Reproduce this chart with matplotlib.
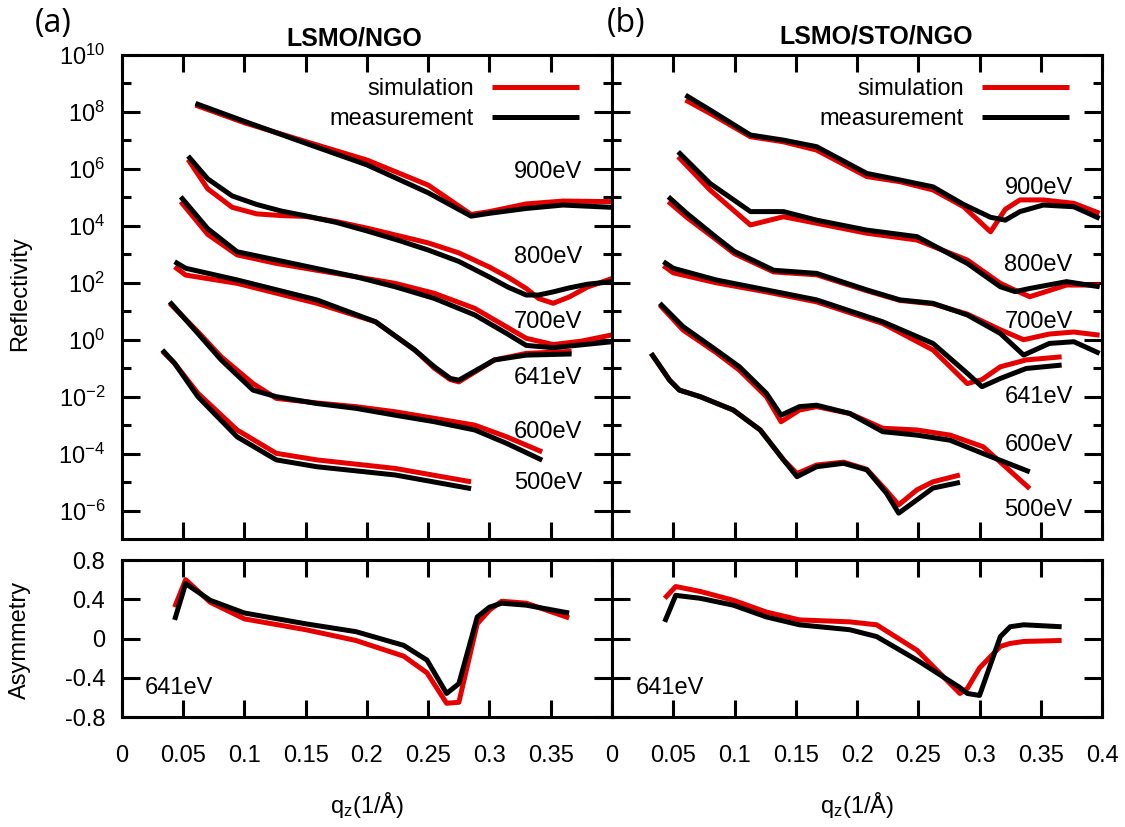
import numpy as np
import matplotlib
matplotlib.use("Agg")
import matplotlib.pyplot as plt
from matplotlib.ticker import FixedLocator, FixedFormatter

plt.rcParams['font.family'] = ['Liberation Sans', 'DejaVu Sans']
plt.rcParams['mathtext.fontset'] = 'custom'
plt.rcParams['mathtext.rm'] = 'Liberation Sans'
plt.rcParams['mathtext.it'] = 'Liberation Sans:italic'
plt.rcParams['mathtext.default'] = 'regular'

# ---- data: reflectivity given as log10(R) ----
# panel (a) LSMO/NGO
qa_900 = [0.060, 0.10, 0.15, 0.20, 0.25, 0.285, 0.30, 0.33, 0.36, 0.40]
a_900_meas = [8.30, 7.67, 6.90, 6.14, 5.16, 4.34, 4.44, 4.61, 4.73, 4.65]
a_900_sim = [8.24, 7.62, 6.96, 6.31, 5.43, 4.40, 4.50, 4.77, 4.87, 4.85]

qa_800 = [0.054, 0.07, 0.09, 0.11, 0.13, 0.15, 0.175, 0.20, 0.225, 0.25,
          0.275, 0.30, 0.315, 0.33, 0.34, 0.352, 0.365, 0.38, 0.40]
a_800_meas = [6.45, 5.65, 5.05, 4.75, 4.52, 4.35, 4.12, 3.82, 3.50, 3.15,
              2.75, 2.20, 1.85, 1.57, 1.57, 1.68, 1.82, 1.95, 2.04]
a_800_sim = [6.33, 5.30, 4.65, 4.42, 4.36, 4.33, 4.15, 3.92, 3.66, 3.40,
             3.05, 2.55, 2.20, 1.80, 1.45, 1.28, 1.50, 1.85, 2.15]

qa_700 = [0.048, 0.07, 0.094, 0.126, 0.159, 0.191, 0.223, 0.255, 0.288,
          0.314, 0.330, 0.352, 0.375, 0.40]
a_700_meas = [5.02, 3.90, 3.09, 2.80, 2.50, 2.21, 1.86, 1.45, 0.87,
              0.22, -0.20, -0.28, -0.18, -0.07]
a_700_sim = [4.85, 3.70, 2.98, 2.68, 2.44, 2.21, 1.98, 1.63, 1.10,
             0.45, 0.05, -0.17, -0.05, 0.17]

qa_641 = [0.043, 0.052, 0.094, 0.159, 0.207, 0.239, 0.255, 0.268, 0.275,
          0.304, 0.33, 0.367]
a_641_meas = [2.74, 2.51, 2.10, 1.40, 0.63, -0.36, -0.95, -1.36, -1.42,
              -0.71, -0.54, -0.50]
a_641_sim = [2.56, 2.27, 1.98, 1.28, 0.63, -0.36, -1.00, -1.40, -1.48,
             -0.71, -0.48, -0.41]

qa_600 = [0.039, 0.062, 0.081, 0.107, 0.126, 0.159, 0.191, 0.223, 0.255,
          0.288, 0.314, 0.343]
a_600_meas = [1.33, 0.22, -0.71, -1.77, -2.00, -2.24, -2.41, -2.65, -2.88,
              -3.17, -3.64, -4.23]
a_600_sim = [1.28, 0.28, -0.60, -1.54, -2.06, -2.22, -2.35, -2.53, -2.76,
             -3.00, -3.41, -3.94]

qa_500 = [0.033, 0.043, 0.062, 0.094, 0.126, 0.159, 0.223, 0.285]
a_500_meas = [-0.36, -0.83, -2.00, -3.41, -4.22, -4.46, -4.75, -5.23]
a_500_sim = [-0.40, -0.83, -1.88, -3.17, -3.99, -4.22, -4.52, -4.99]

# panel (b) LSMO/STO/NGO
qb_900 = [0.060, 0.080, 0.113, 0.140, 0.167, 0.208, 0.235, 0.262, 0.287,
          0.309, 0.321, 0.333, 0.352, 0.377, 0.398]
b_900_meas = [8.59, 8.07, 7.19, 7.01, 6.78, 5.84, 5.61, 5.37, 4.75,
              4.30, 4.20, 4.50, 4.73, 4.67, 4.26]
b_900_sim = [8.42, 7.95, 7.13, 6.95, 6.66, 5.73, 5.55, 5.26, 4.67,
             3.79, 4.58, 4.91, 4.91, 4.79, 4.44]

qb_800 = [0.054, 0.080, 0.113, 0.140, 0.167, 0.208, 0.249, 0.290, 0.317,
          0.329, 0.341, 0.371, 0.398]
b_800_meas = [6.60, 5.49, 4.50, 4.50, 4.20, 3.85, 3.62, 2.68, 1.86,
              1.69, 1.80, 2.04, 1.86]
b_800_sim = [6.43, 5.26, 4.03, 4.32, 4.09, 3.74, 3.50, 2.80, 1.98,
             1.74, 1.51, 1.92, 1.92]

qb_700 = [0.046, 0.061, 0.085, 0.10, 0.132, 0.167, 0.208, 0.235, 0.262,
          0.290, 0.317, 0.336, 0.357, 0.377, 0.398]
b_700_meas = [5.02, 4.44, 3.60, 3.10, 2.44, 2.33, 1.75, 1.40, 1.28,
              0.87, 0.22, -0.54, -0.13, -0.07, -0.48]
b_700_sim = [4.85, 4.30, 3.52, 3.02, 2.38, 2.28, 1.72, 1.38, 1.26,
             0.90, 0.35, 0.00, 0.20, 0.27, 0.16]

qb_641 = [0.042, 0.050, 0.085, 0.126, 0.167, 0.221, 0.262, 0.290, 0.302,
          0.317, 0.338, 0.367]
b_641_meas = [2.74, 2.51, 2.10, 1.75, 1.40, 0.63, -0.13, -1.18, -1.65,
              -1.36, -1.01, -0.89]
b_641_sim = [2.60, 2.35, 2.00, 1.68, 1.33, 0.57, -0.36, -1.54, -1.40,
             -0.95, -0.71, -0.60]

qb_600 = [0.039, 0.058, 0.085, 0.104, 0.126, 0.138, 0.153, 0.167, 0.194,
          0.221, 0.249, 0.276, 0.303, 0.341]
b_600_meas = [1.28, 0.46, -0.36, -0.95, -1.88, -2.65, -2.35, -2.30, -2.59,
              -3.23, -3.35, -3.53, -4.00, -4.64]
b_600_sim = [1.22, 0.34, -0.45, -1.07, -2.00, -2.88, -2.47, -2.35, -2.59,
             -3.11, -3.17, -3.35, -3.76, -5.23]

qb_500 = [0.032, 0.047, 0.055, 0.072, 0.099, 0.121, 0.140, 0.151, 0.167,
          0.189, 0.208, 0.224, 0.234, 0.249, 0.262, 0.284]
b_500_meas = [-0.48, -1.42, -1.77, -2.00, -2.47, -3.17, -4.22, -4.81, -4.46,
              -4.34, -4.57, -5.39, -6.09, -5.62, -5.21, -5.01]
b_500_sim = [-0.48, -1.42, -1.77, -2.00, -2.47, -3.17, -4.22, -4.70, -4.40,
             -4.30, -4.55, -5.30, -5.80, -5.27, -4.99, -4.75]

# asymmetry at 641 eV
qa_asym = [0.043, 0.052, 0.072, 0.10, 0.15, 0.191, 0.23, 0.249, 0.265,
           0.275, 0.29, 0.30, 0.31, 0.33, 0.365]
a_asym_meas = [0.19, 0.56, 0.39, 0.26, 0.15, 0.07, -0.07, -0.22, -0.56,
               -0.46, 0.22, 0.32, 0.36, 0.34, 0.26]
a_asym_sim = [0.32, 0.60, 0.37, 0.20, 0.09, -0.02, -0.18, -0.35, -0.66,
              -0.65, 0.15, 0.29, 0.38, 0.36, 0.21]

qb_asym = [0.043, 0.052, 0.072, 0.099, 0.126, 0.153, 0.194, 0.216, 0.249,
           0.284, 0.29, 0.30, 0.317, 0.325, 0.336, 0.367]
b_asym_meas = [0.17, 0.44, 0.41, 0.34, 0.22, 0.14, 0.09, 0.02, -0.22,
               -0.50, -0.56, -0.58, 0.02, 0.12, 0.14, 0.12]
b_asym_sim = [0.41, 0.53, 0.48, 0.39, 0.27, 0.19, 0.17, 0.14, -0.12,
              -0.56, -0.51, -0.30, -0.08, -0.05, -0.03, -0.02]

energies = ['900eV', '800eV', '700eV', '641eV', '600eV', '500eV']
a_label_pos = [5.89, 2.90, 0.62, -1.35, -3.24, -5.03]
b_label_pos = [5.33, 2.62, 0.62, -2.01, -3.70, -5.98]

ytick_vals = [1e-6, 1e-4, 1e-2, 1e0, 1e2, 1e4, 1e6, 1e8, 1e10]
ytick_text = ['$10^{-6}$', '$10^{-4}$', '$10^{-2}$', '$10^{0}$', '$10^{2}$',
              '$10^{4}$', '$10^{6}$', '$10^{8}$', '$10^{10}$']
yminor_vals = [1e-5, 1e-3, 1e-1, 1e1, 1e3, 1e5, 1e7, 1e9]
xtick_vals = [0, 0.05, 0.1, 0.15, 0.2, 0.25, 0.3, 0.35, 0.4]
xtick_text_a = ['0', '0.05', '0.1', '0.15', '0.2', '0.25', '0.3', '0.35', '']
xtick_text_b = ['0', '0.05', '0.1', '0.15', '0.2', '0.25', '0.3', '0.35', '0.4']

RED = '#e60000'
BLACK = '#000000'
FS = 17
LW = 3.6

fig = plt.figure(figsize=(11.25, 8.27), dpi=100)
ax_at = fig.add_axes([0.1084, 0.3482, 0.4356, 0.5853])
ax_bt = fig.add_axes([0.5440, 0.3482, 0.4356, 0.5853])
ax_ab = fig.add_axes([0.1084, 0.1330, 0.4356, 0.1898])
ax_bb = fig.add_axes([0.5440, 0.1330, 0.4356, 0.1898])


def curve(ax, q, logr, color, label=None):
    ax.plot(q, 10.0 ** np.array(logr), color=color, lw=LW, label=label,
            solid_capstyle='butt', solid_joinstyle='round')


def style(ax, top):
    for s in ax.spines.values():
        s.set_linewidth(2.2)
    ax.set_xlim(0, 0.4)
    ax.xaxis.set_major_locator(FixedLocator(xtick_vals))
    ax.tick_params(axis='both', which='major', direction='in', top=True,
                   right=True, width=2.2, labelsize=FS)
    ax.tick_params(axis='x', which='major', length=12, pad=20)
    ax.tick_params(axis='y', which='major', length=13, pad=12)
    ax.tick_params(axis='y', which='minor', direction='in', left=True,
                   right=True, length=6.5, width=2.2)
    if top:
        ax.tick_params(axis='x', labelbottom=False)


# reflectivity panels
sets = [
    (ax_at, [(qa_900, a_900_sim, a_900_meas), (qa_800, a_800_sim, a_800_meas),
             (qa_700, a_700_sim, a_700_meas), (qa_641, a_641_sim, a_641_meas),
             (qa_600, a_600_sim, a_600_meas), (qa_500, a_500_sim, a_500_meas)],
     a_label_pos),
    (ax_bt, [(qb_900, b_900_sim, b_900_meas), (qb_800, b_800_sim, b_800_meas),
             (qb_700, b_700_sim, b_700_meas), (qb_641, b_641_sim, b_641_meas),
             (qb_600, b_600_sim, b_600_meas), (qb_500, b_500_sim, b_500_meas)],
     b_label_pos),
]
for ax, curves, lpos in sets:
    for i, (q, sim, meas) in enumerate(curves):
        curve(ax, q, sim, RED, 'simulation' if i == 0 else None)
    for i, (q, sim, meas) in enumerate(curves):
        curve(ax, q, meas, BLACK, 'measurement' if i == 0 else None)
    ax.set_yscale('log')
    ax.set_ylim(1e-7, 1e10)
    style(ax, True)
    ax.yaxis.set_major_locator(FixedLocator(ytick_vals))
    ax.yaxis.set_minor_locator(FixedLocator(yminor_vals))
    ax.yaxis.set_major_formatter(FixedFormatter(ytick_text))
    ax.yaxis.set_minor_formatter(FixedFormatter([''] * len(yminor_vals)))
    for lab, ly in zip(energies, lpos):
        ax.text(0.376, 10.0 ** ly, lab, ha='right', va='center', fontsize=FS)
    ax.legend(loc='upper right', bbox_to_anchor=(0.933, 0.952),
              frameon=False, markerfirst=False, fontsize=FS,
              handlelength=3.7, handletextpad=0.75, labelspacing=0.32,
              borderpad=0, borderaxespad=0)

ax_bt.tick_params(axis='y', which='both', labelleft=False)

# asymmetry panels
for ax, q, sim, meas, xt in [(ax_ab, qa_asym, a_asym_sim, a_asym_meas, xtick_text_a),
                             (ax_bb, qb_asym, b_asym_sim, b_asym_meas, xtick_text_b)]:
    ax.plot(q, sim, color=RED, lw=LW, solid_capstyle='butt', solid_joinstyle='round')
    ax.plot(q, meas, color=BLACK, lw=LW, solid_capstyle='butt', solid_joinstyle='round')
    ax.set_ylim(-0.8, 0.8)
    style(ax, False)
    ax.yaxis.set_major_locator(FixedLocator([-0.8, -0.4, 0, 0.4, 0.8]))
    ax.yaxis.set_major_formatter(FixedFormatter(['-0.8', '-0.4', '0', '0.4', '0.8']))
    ax.xaxis.set_major_formatter(FixedFormatter(xt))
    ax.text(0.019, -0.50, '641eV', ha='left', va='center', fontsize=FS)

ax_bb.tick_params(axis='y', labelleft=False)

# labels
fig.text(0.3147, 0.954, 'LSMO/NGO', ha='center', va='center', fontsize=18,
         fontweight='bold')
fig.text(0.7787, 0.956, 'LSMO/STO/NGO', ha='center', va='center', fontsize=18,
         fontweight='bold')
fig.text(0.0471, 0.972, '(a)', ha='center', va='center', fontsize=23,
         family=['Open Sans', 'DejaVu Sans'])
fig.text(0.5564, 0.972, '(b)', ha='center', va='center', fontsize=23,
         family=['Open Sans', 'DejaVu Sans'])
fig.text(0.0178, 0.6445, 'Reflectivity', rotation=90, ha='center',
         va='center', fontsize=FS)
fig.text(0.0178, 0.226, 'Asymmetry', rotation=90, ha='center', va='center',
         fontsize=FS)
fig.text(0.3262, 0.026, 'q$_z$(1/Å)', ha='center', va='center', fontsize=FS)
fig.text(0.7618, 0.026, 'q$_z$(1/Å)', ha='center', va='center', fontsize=FS)

fig.savefig('out.png', dpi=100)
